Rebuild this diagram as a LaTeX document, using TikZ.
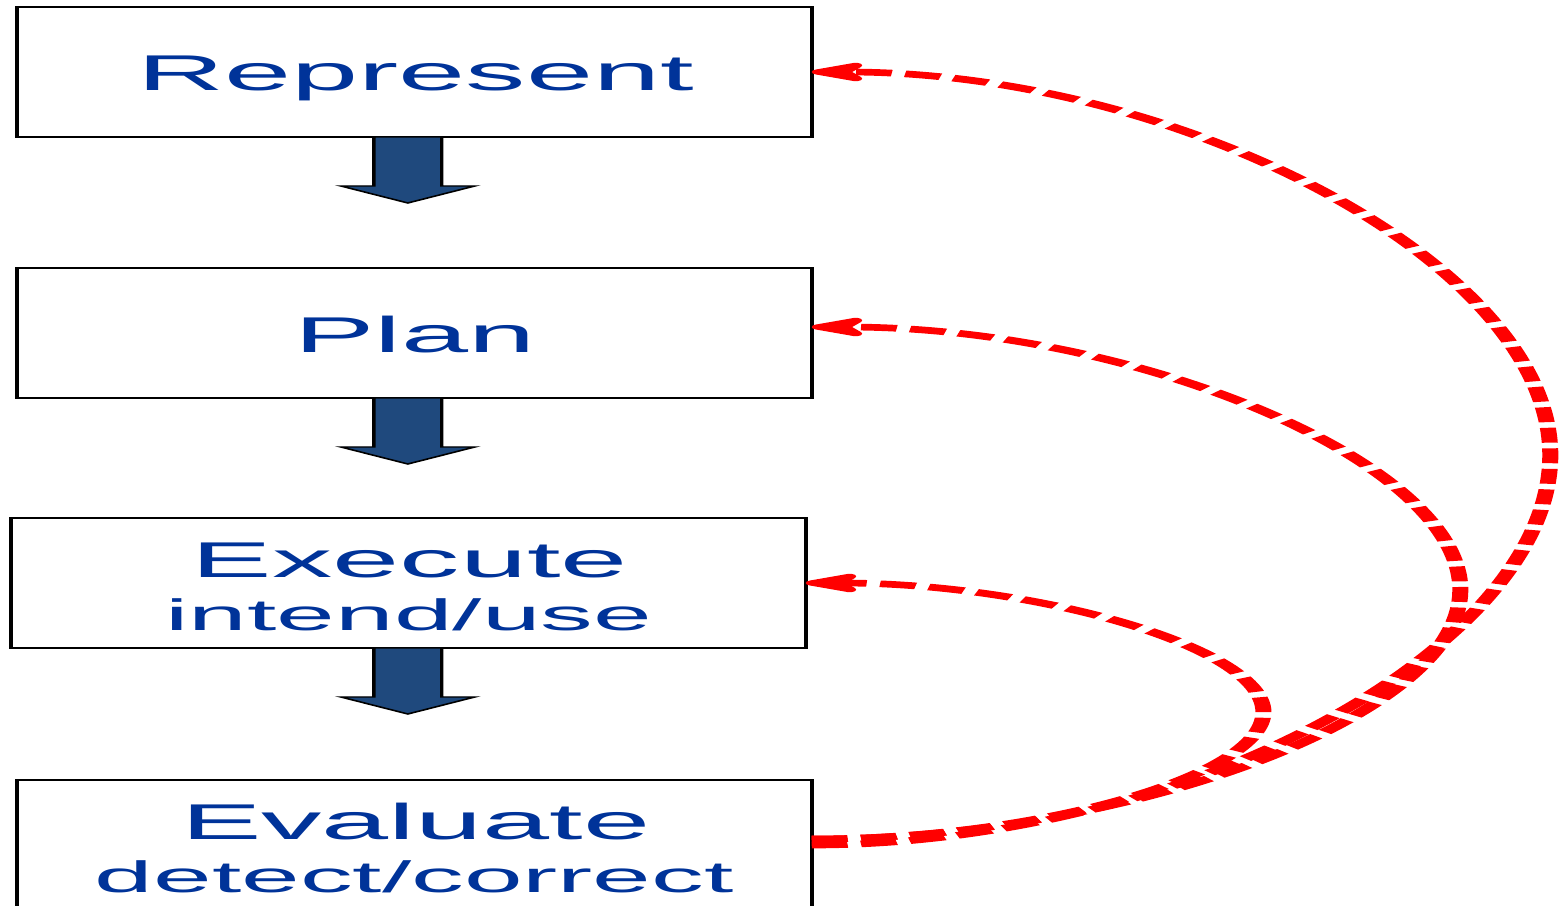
\documentclass[tikz,border=0pt]{standalone}
\usepackage{fontspec}
\setmainfont{Liberation Sans}
\usetikzlibrary{arrows.meta,calc}
\definecolor{txtblue}{RGB}{0,51,153}
\definecolor{blockblue}{RGB}{31,73,125}
\definecolor{loopred}{RGB}{255,0,0}
\tikzset{
  stepbox/.style={rectangle, draw=black, line width=1pt, fill=white,
    minimum width=6.625cm, minimum height=2.6cm, inner sep=0pt, outer sep=0pt},
  maintext/.style={anchor=base, inner sep=0pt, text=txtblue,
    font=\fontsize{28.6}{30}\selectfont},
  subtext/.style={anchor=base, inner sep=0pt, text=txtblue,
    font=\fontsize{25}{27}\selectfont},
  feedback/.style={draw=loopred, line width=3.8pt, dash pattern=on 8.5pt off 3.2pt,
    -{Stealth[length=17pt,width=14pt,inset=5pt,round]}},
  blockdown/.pic={
    \filldraw[fill=blockblue, draw=black, line width=0.8pt, line join=miter]
      (-34,0) -- (-34,49) -- (-67,49) -- (0,66) -- (67,49) -- (34,49) -- (34,0) -- cycle;
  }
}
\begin{document}
\begin{tikzpicture}[x=0.02cm,y=-0.02cm]
\fill[white] (0,0) rectangle (1560,906);
\useasboundingbox (0,0) rectangle (1560,906);
\begin{scope}[x=0.0083333cm, transform canvas={xscale=2.4}]
  % boxes
  \node[stepbox] (rep)  at (414.5,72)  {};
  \node[stepbox] (plan) at (414.5,333) {};
  \node[stepbox] (exe)  at (408.5,583) {};
  \node[stepbox] (eva)  at (414.5,845) {};
  % texts
  \node[maintext] (repT)  at (416,91)    {Represent};
  \node[maintext] (planT) at (415,352)   {Plan};
  \node[maintext] (exeT)  at (410,577)   {Execute};
  \node[subtext]  (exeS)  at (409,630)   {intend/use};
  \node[maintext] (evaT)  at (416,839)   {Evaluate};
  \node[subtext]  (evaS)  at (414.5,892) {detect/correct};
  % block arrows
  \pic at ($(rep.south)+(-6.5,0)$)  {blockdown};
  \pic at ($(plan.south)+(-6.5,0)$) {blockdown};
  \pic at ($(exe.south)+(-0.5,0)$)  {blockdown};
  % feedback loops
  \coordinate (rtop) at (1551,455);
  \coordinate (ptop) at (1461,590);
  \coordinate (etop) at (1264,712);
  \draw[feedback] (eva.east) .. controls +(374,0) and +(0,194) .. (rtop)
        .. controls +(0,-191) and +(370,0) .. (rep.east);
  \draw[feedback] ([yshift=3.4pt]eva.east) .. controls +(325,0) and +(0,125) .. (ptop)
        .. controls +(0,-128) and +(325,0) .. ([yshift=3.4pt]plan.east);
  \draw[feedback] ([yshift=3.4pt]eva.east) .. controls +(226,0) and +(0,64) .. (etop)
        .. controls +(0,-65) and +(229,0) .. (exe.east);
\end{scope}
\end{tikzpicture}
\end{document}
